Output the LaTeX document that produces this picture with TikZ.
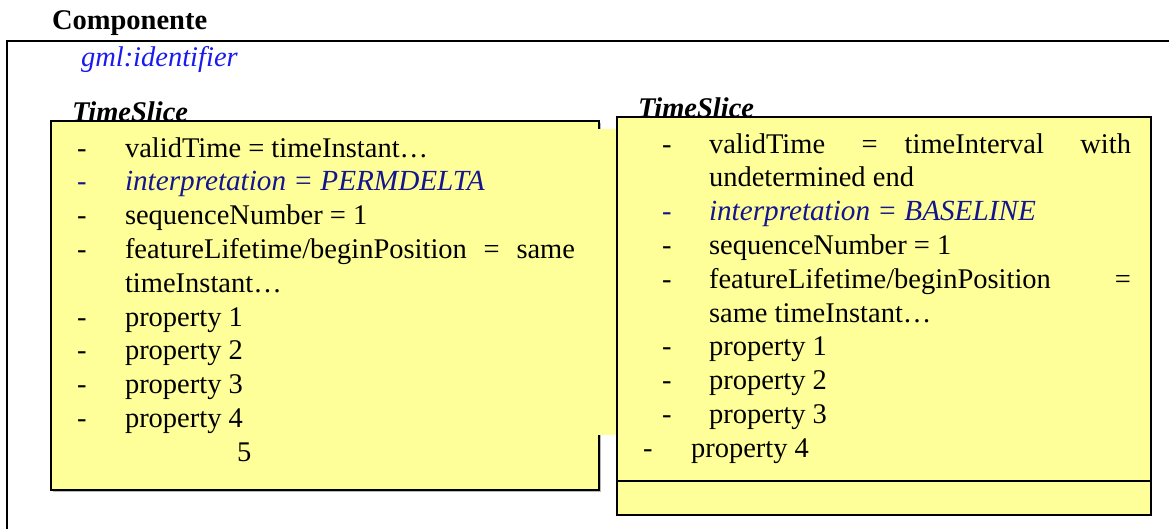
\documentclass[tikz,border=0pt]{standalone}
\usepackage{fontspec}
\setmainfont{Liberation Serif}
\definecolor{boxyellow}{HTML}{FFFF99}
\definecolor{idblue}{HTML}{1A1AF0}
\definecolor{navy}{HTML}{15158F}
\newcommand\bodysize{\fontsize{28.5}{33.8}\selectfont}
\begin{document}
\begin{tikzpicture}[x=1pt,y=-1pt,
  txt/.style={inner sep=0pt, outer sep=0pt, anchor=base west, font=\bodysize},
  navytxt/.style={txt, text=navy, font=\bodysize\itshape},
  titletxt/.style={txt, font=\bodysize\bfseries\itshape},
  boxline/.style={draw=black, line width=2pt, fill=boxyellow},
]
\useasboundingbox (0,0) rectangle (1169,528);

% outer frame (only top and left edges visible)
\draw[line width=2.5pt] (7,530) -- (7,41) -- (1172,41);
\node[txt, font=\bodysize\bfseries] (comp) at (52,29) {Componente};
\node[txt, text=idblue, font=\bodysize\itshape] (gmlid) at (81,66) {gml:identifier};

% left TimeSlice box
\fill[gray!55] (53,123) rectangle (601,492);
\draw[boxline] (51,121) rectangle (599,490);

% yellow frame background of the right text box spilling over
\fill[boxyellow] (590,129) rectangle (616,435);

\node[titletxt] (ts1) at (72,121) {TimeSlice};

\node[txt] (l1d) at (77,157) {-};
\node[txt] (l1) at (125,157) {validTime = timeInstant…};
\node[navytxt] (l2d) at (77,190.8) {-};
\node[navytxt] (l2) at (125,190.8) {\fontsize{29.2}{33.8}\selectfont interpretation = PERMDELTA};
\node[txt] (l3d) at (77,224.6) {-};
\node[txt] (l3) at (125,224.6) {sequenceNumber = 1};
\node[txt] (l4d) at (77,258.4) {-};
\node[txt] (l4) at (125,258.4) {\makebox[450pt][s]{featureLifetime/beginPosition = same}};
\node[txt] (l5) at (125,292.2) {timeInstant…};
\node[txt] (l6d) at (77,326) {-};
\node[txt] (l6) at (125,326) {property 1};
\node[txt] (l7d) at (77,359.8) {-};
\node[txt] (l7) at (125,359.8) {property 2};
\node[txt] (l8d) at (77,393.6) {-};
\node[txt] (l8) at (125,393.6) {property 3};
\node[txt] (l9d) at (77,427.4) {-};
\node[txt] (l9) at (125,427.4) {property 4};
\node[txt] (l10) at (237,461.2) {5};

% right TimeSlice box
\draw[boxline] (617,117) rectangle (1151,515);
\draw[line width=2pt] (617,481) -- (1151,481);
\node[titletxt] (ts2) at (638,117) {TimeSlice};

\node[txt] (r1d) at (662,153) {-};
\node[txt] (r1) at (709,153) {\makebox[422pt][s]{validTime\hspace{6pt plus 1fil} =\hspace{6pt plus 0.6fil} timeInterval\hspace{6pt plus 1fil} with}};
\node[txt] (r2) at (709,186.8) {undetermined end};
\node[navytxt] (r3d) at (662,220.6) {-};
\node[navytxt] (r3) at (709,220.6) {\fontsize{29.2}{33.8}\selectfont interpretation = BASELINE};
\node[txt] (r4d) at (662,254.4) {-};
\node[txt] (r4) at (709,254.4) {sequenceNumber = 1};
\node[txt] (r5d) at (662,288.2) {-};
\node[txt] (r5) at (709,288.2) {\makebox[422pt][s]{featureLifetime/beginPosition =}};
\node[txt] (r6) at (709,322) {same timeInstant…};
\node[txt] (r7d) at (662,355.8) {-};
\node[txt] (r7) at (709,355.8) {property 1};
\node[txt] (r8d) at (662,389.6) {-};
\node[txt] (r8) at (709,389.6) {property 2};
\node[txt] (r9d) at (662,423.4) {-};
\node[txt] (r9) at (709,423.4) {property 3};
\node[txt] (r10d) at (643,457.2) {-};
\node[txt] (r10) at (691,457.2) {property 4};
\end{tikzpicture}
\end{document}
